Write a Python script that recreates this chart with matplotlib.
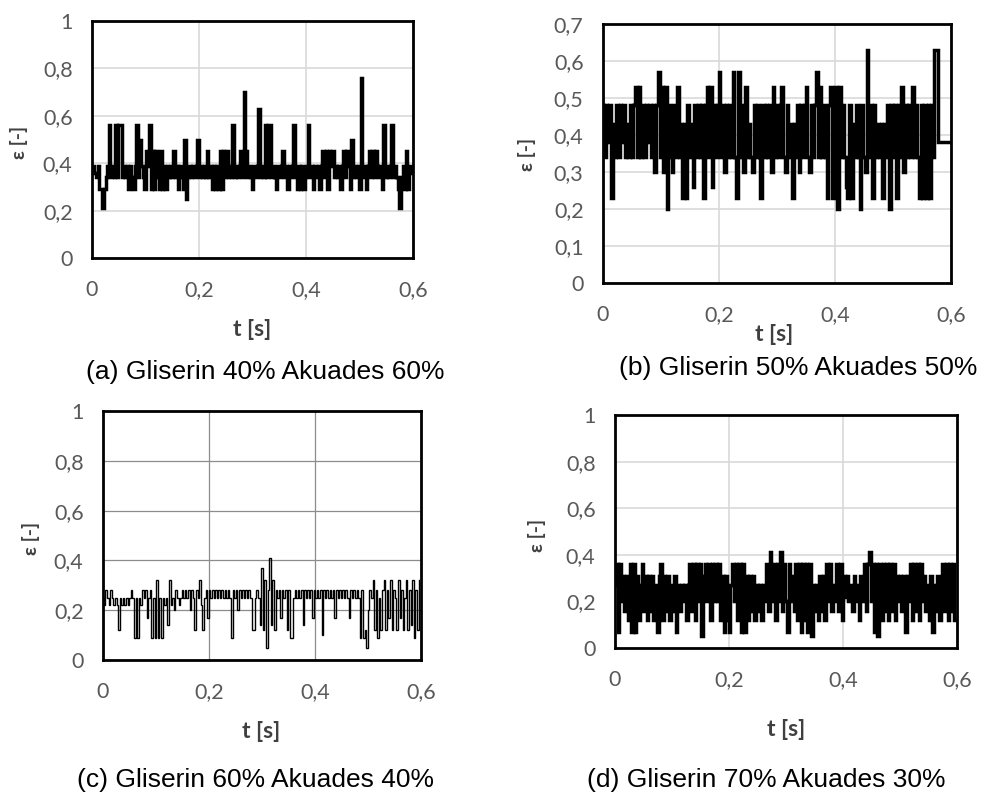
import numpy as np
import matplotlib
matplotlib.use("Agg")
import matplotlib.pyplot as plt

# ---------------- data ----------------
t_end = 0.6

eps_a = [
    0.39, 0.39, 0.36, 0.34, 0.39, 0.29, 0.29, 0.21, 0.29, 0.34,
    0.39, 0.56, 0.34, 0.39, 0.34, 0.56, 0.34, 0.56, 0.56, 0.34,
    0.39, 0.34, 0.39, 0.29, 0.39, 0.34, 0.29, 0.39, 0.56, 0.34,
    0.50, 0.39, 0.34, 0.29, 0.45, 0.39, 0.56, 0.29, 0.45, 0.29,
    0.45, 0.34, 0.29, 0.45, 0.29, 0.39, 0.29, 0.39, 0.34, 0.39,
    0.34, 0.45, 0.34, 0.39, 0.29, 0.39, 0.34, 0.29, 0.50, 0.25,
    0.34, 0.39, 0.34, 0.39, 0.34, 0.39, 0.50, 0.34, 0.39, 0.34,
    0.39, 0.34, 0.45, 0.34, 0.39, 0.29, 0.39, 0.29, 0.39, 0.29,
    0.45, 0.29, 0.45, 0.34, 0.45, 0.34, 0.39, 0.34, 0.56, 0.34,
    0.39, 0.34, 0.39, 0.45, 0.34, 0.70, 0.45, 0.34, 0.39, 0.34,
    0.29, 0.39, 0.34, 0.39, 0.63, 0.34, 0.39, 0.34, 0.56, 0.34,
    0.56, 0.56, 0.34, 0.39, 0.34, 0.29, 0.39, 0.34, 0.39, 0.45,
    0.34, 0.39, 0.29, 0.39, 0.34, 0.39, 0.56, 0.34, 0.29, 0.39,
    0.29, 0.39, 0.29, 0.34, 0.39, 0.56, 0.34, 0.39, 0.29, 0.39,
    0.34, 0.39, 0.29, 0.39, 0.45, 0.34, 0.45, 0.29, 0.45, 0.39,
    0.45, 0.34, 0.39, 0.34, 0.39, 0.29, 0.39, 0.45, 0.34, 0.45,
    0.39, 0.29, 0.50, 0.34, 0.39, 0.34, 0.39, 0.29, 0.76, 0.34,
    0.39, 0.29, 0.39, 0.45, 0.34, 0.45, 0.34, 0.45, 0.39, 0.34,
    0.39, 0.29, 0.56, 0.34, 0.39, 0.34, 0.39, 0.56, 0.34, 0.39,
    0.34, 0.29, 0.21, 0.34, 0.39, 0.29, 0.45, 0.29, 0.39, 0.36,
]

eps_b = [
    0.48, 0.34, 0.48, 0.38, 0.48, 0.23, 0.43, 0.34, 0.48, 0.34,
    0.48, 0.38, 0.48, 0.34, 0.43, 0.34, 0.48, 0.34, 0.48, 0.53,
    0.34, 0.53, 0.34, 0.48, 0.34, 0.48, 0.38, 0.48, 0.34, 0.48,
    0.30, 0.48, 0.57, 0.34, 0.53, 0.30, 0.53, 0.20, 0.48, 0.34,
    0.30, 0.48, 0.34, 0.53, 0.34, 0.43, 0.23, 0.43, 0.23, 0.48,
    0.34, 0.43, 0.26, 0.48, 0.34, 0.48, 0.34, 0.48, 0.23, 0.48,
    0.53, 0.34, 0.53, 0.26, 0.48, 0.34, 0.48, 0.57, 0.34, 0.48,
    0.30, 0.48, 0.34, 0.48, 0.34, 0.57, 0.34, 0.23, 0.57, 0.34,
    0.48, 0.30, 0.53, 0.34, 0.43, 0.34, 0.30, 0.48, 0.34, 0.48,
    0.34, 0.23, 0.48, 0.34, 0.48, 0.34, 0.48, 0.30, 0.53, 0.34,
    0.48, 0.34, 0.48, 0.53, 0.34, 0.30, 0.48, 0.34, 0.43, 0.23,
    0.43, 0.34, 0.48, 0.30, 0.48, 0.34, 0.48, 0.53, 0.34, 0.30,
    0.48, 0.34, 0.48, 0.57, 0.34, 0.53, 0.34, 0.48, 0.34, 0.23,
    0.48, 0.53, 0.23, 0.48, 0.53, 0.20, 0.53, 0.34, 0.48, 0.34,
    0.26, 0.23, 0.48, 0.23, 0.43, 0.34, 0.48, 0.34, 0.20, 0.48,
    0.34, 0.30, 0.63, 0.34, 0.48, 0.23, 0.48, 0.34, 0.43, 0.34,
    0.43, 0.23, 0.43, 0.34, 0.48, 0.20, 0.48, 0.34, 0.48, 0.23,
    0.48, 0.34, 0.53, 0.30, 0.48, 0.34, 0.48, 0.34, 0.53, 0.34,
    0.48, 0.34, 0.23, 0.48, 0.23, 0.48, 0.23, 0.48, 0.23, 0.48,
    0.34, 0.63, 0.63, 0.38, 0.38, 0.38, 0.38, 0.38, 0.38, 0.38,
]

eps_c = [
    0.25, 0.22, 0.28, 0.25, 0.22, 0.28, 0.25, 0.22, 0.25, 0.22,
    0.12, 0.25, 0.22, 0.25, 0.22, 0.25, 0.22, 0.25, 0.28, 0.25,
    0.09, 0.25, 0.09, 0.25, 0.22, 0.28, 0.25, 0.28, 0.17, 0.25,
    0.28, 0.09, 0.25, 0.09, 0.32, 0.09, 0.25, 0.09, 0.25, 0.22,
    0.25, 0.14, 0.32, 0.22, 0.25, 0.20, 0.28, 0.25, 0.22, 0.25,
    0.28, 0.25, 0.28, 0.25, 0.28, 0.20, 0.28, 0.25, 0.12, 0.28,
    0.25, 0.32, 0.22, 0.12, 0.25, 0.28, 0.17, 0.28, 0.25, 0.28,
    0.25, 0.28, 0.25, 0.28, 0.25, 0.28, 0.25, 0.28, 0.25, 0.28,
    0.25, 0.09, 0.28, 0.25, 0.28, 0.20, 0.28, 0.25, 0.28, 0.25,
    0.28, 0.25, 0.28, 0.25, 0.12, 0.12, 0.25, 0.28, 0.25, 0.14,
    0.37, 0.12, 0.32, 0.05, 0.28, 0.41, 0.14, 0.32, 0.12, 0.28,
    0.25, 0.28, 0.17, 0.28, 0.25, 0.28, 0.12, 0.28, 0.09, 0.09,
    0.25, 0.28, 0.25, 0.28, 0.25, 0.28, 0.14, 0.28, 0.25, 0.28,
    0.25, 0.28, 0.17, 0.28, 0.25, 0.28, 0.25, 0.28, 0.10, 0.28,
    0.25, 0.28, 0.25, 0.28, 0.25, 0.28, 0.17, 0.28, 0.25, 0.28,
    0.25, 0.28, 0.25, 0.28, 0.25, 0.17, 0.28, 0.25, 0.28, 0.25,
    0.28, 0.25, 0.09, 0.28, 0.09, 0.12, 0.05, 0.20, 0.28, 0.25,
    0.32, 0.12, 0.28, 0.09, 0.25, 0.12, 0.28, 0.32, 0.12, 0.28,
    0.17, 0.32, 0.12, 0.28, 0.25, 0.12, 0.32, 0.17, 0.28, 0.12,
    0.25, 0.32, 0.12, 0.28, 0.14, 0.32, 0.09, 0.28, 0.12, 0.32,
]

eps_d = [
    0.27, 0.36, 0.07, 0.36, 0.20, 0.31, 0.16, 0.31, 0.12, 0.36,
    0.07, 0.36, 0.07, 0.31, 0.12, 0.27, 0.36, 0.16, 0.31, 0.12,
    0.31, 0.16, 0.31, 0.12, 0.27, 0.07, 0.31, 0.36, 0.12, 0.31,
    0.16, 0.31, 0.12, 0.27, 0.16, 0.31, 0.07, 0.27, 0.16, 0.27,
    0.20, 0.27, 0.12, 0.27, 0.36, 0.16, 0.36, 0.12, 0.36, 0.20,
    0.36, 0.05, 0.31, 0.36, 0.20, 0.36, 0.12, 0.36, 0.20, 0.36,
    0.20, 0.36, 0.12, 0.31, 0.07, 0.31, 0.12, 0.07, 0.27, 0.36,
    0.20, 0.36, 0.12, 0.36, 0.07, 0.36, 0.07, 0.31, 0.12, 0.31,
    0.16, 0.31, 0.12, 0.27, 0.16, 0.27, 0.12, 0.27, 0.20, 0.36,
    0.16, 0.41, 0.20, 0.36, 0.12, 0.36, 0.20, 0.41, 0.16, 0.36,
    0.20, 0.07, 0.36, 0.20, 0.31, 0.16, 0.36, 0.12, 0.36, 0.07,
    0.36, 0.12, 0.36, 0.07, 0.36, 0.05, 0.27, 0.16, 0.27, 0.12,
    0.31, 0.16, 0.31, 0.12, 0.36, 0.20, 0.36, 0.16, 0.27, 0.20,
    0.36, 0.16, 0.36, 0.12, 0.31, 0.22, 0.31, 0.20, 0.27, 0.16,
    0.31, 0.20, 0.27, 0.12, 0.31, 0.20, 0.36, 0.16, 0.36, 0.41,
    0.20, 0.36, 0.07, 0.36, 0.05, 0.36, 0.12, 0.36, 0.16, 0.36,
    0.12, 0.36, 0.16, 0.36, 0.12, 0.31, 0.20, 0.31, 0.16, 0.31,
    0.07, 0.31, 0.20, 0.36, 0.12, 0.36, 0.16, 0.36, 0.12, 0.36,
    0.20, 0.31, 0.16, 0.27, 0.12, 0.31, 0.07, 0.27, 0.16, 0.31,
    0.12, 0.27, 0.36, 0.16, 0.36, 0.12, 0.36, 0.16, 0.36, 0.12,
]

captions = [
    "(a) Gliserin 40% Akuades 60%",
    "(b) Gliserin 50% Akuades 50%",
    "(c) Gliserin 60% Akuades 40%",
    "(d) Gliserin 70% Akuades 30%",
]
x_ticks = [0, 0.2, 0.4, 0.6]
y_ticks_1 = [0, 0.2, 0.4, 0.6, 0.8, 1.0]
y_ticks_07 = [0, 0.1, 0.2, 0.3, 0.4, 0.5, 0.6, 0.7]
x_label = "t [s]"
y_label = "ε [-]"

# ---------------- layout ----------------
W, H = 982, 793
fig = plt.figure(figsize=(W / 100, H / 100), dpi=100)

def rect(x0, y0, x1, y1):
    return [x0 / W, 1 - y1 / H, (x1 - x0) / W, (y1 - y0) / H]

panels = [
    dict(data=eps_a, rect=rect(92, 21, 413, 258), ymax=1.0, yt=y_ticks_1,
         grid="#d9d9d9", glw=1.2, lw=2.5,
         xl=(252, 330), yl=(19, 142), cap=(265, 372)),
    dict(data=eps_b, rect=rect(603, 24, 951, 283), ymax=0.7, yt=y_ticks_07,
         grid="#d9d9d9", glw=1.2, lw=2.5,
         xl=(774, 335), yl=(527, 154), cap=(798, 368)),
    dict(data=eps_c, rect=rect(103, 411, 421, 660), ymax=1.0, yt=y_ticks_1,
         grid="#8c8c8c", glw=0.9, lw=1.0,
         xl=(261, 732), yl=(31, 538), cap=(256, 780)),
    dict(data=eps_d, rect=rect(615, 415, 957, 648), ymax=1.0, yt=y_ticks_1,
         grid="#d9d9d9", glw=1.2, lw=2.5,
         xl=(786, 730), yl=(537, 535), cap=(766, 780)),
]

tick_font = "Lato"

def fmt(v):
    s = f"{v:.1f}".rstrip("0").rstrip(".")
    return s.replace(".", ",")

for p, cap in zip(panels, captions):
    ax = fig.add_axes(p["rect"])
    vals = np.array(p["data"])
    t = np.linspace(0, t_end * (len(vals) - 1) / len(vals), len(vals))
    ax.plot(t, vals, color="black", lw=p["lw"], drawstyle="steps-mid",
            solid_joinstyle="miter")
    ax.set_xlim(0, 0.6)
    ax.set_ylim(0, p["ymax"])
    ax.set_xticks(x_ticks)
    ax.set_yticks(p["yt"])
    ax.set_xticklabels([fmt(v) for v in x_ticks], fontfamily=tick_font,
                       fontsize=15.5, color="#595959")
    ax.set_yticklabels([fmt(v) for v in p["yt"]], fontfamily=tick_font,
                       fontsize=15.5, color="#595959")
    ax.tick_params(axis="both", length=0)
    ax.tick_params(axis="x", pad=16)
    ax.tick_params(axis="y", pad=14)
    ax.grid(True, color=p["grid"], lw=p["glw"])
    ax.set_axisbelow(True)
    for s in ax.spines.values():
        s.set_color("black")
        s.set_linewidth(2.0)
    fig.text(p["xl"][0] / W, 1 - p["xl"][1] / H, x_label, ha="center",
             va="center", fontsize=16.5, fontweight="bold", color="#404040",
             fontfamily=tick_font)
    fig.text(p["yl"][0] / W, 1 - p["yl"][1] / H, y_label, ha="center",
             va="center", fontsize=14, fontweight="bold", color="#404040",
             rotation=90, fontfamily=["Lato", "DejaVu Sans"])
    fig.text(p["cap"][0] / W, 1 - p["cap"][1] / H, cap, ha="center",
             va="center", fontsize=19, color="black",
             fontfamily="Liberation Sans")

fig.savefig("out.png", dpi=100)
